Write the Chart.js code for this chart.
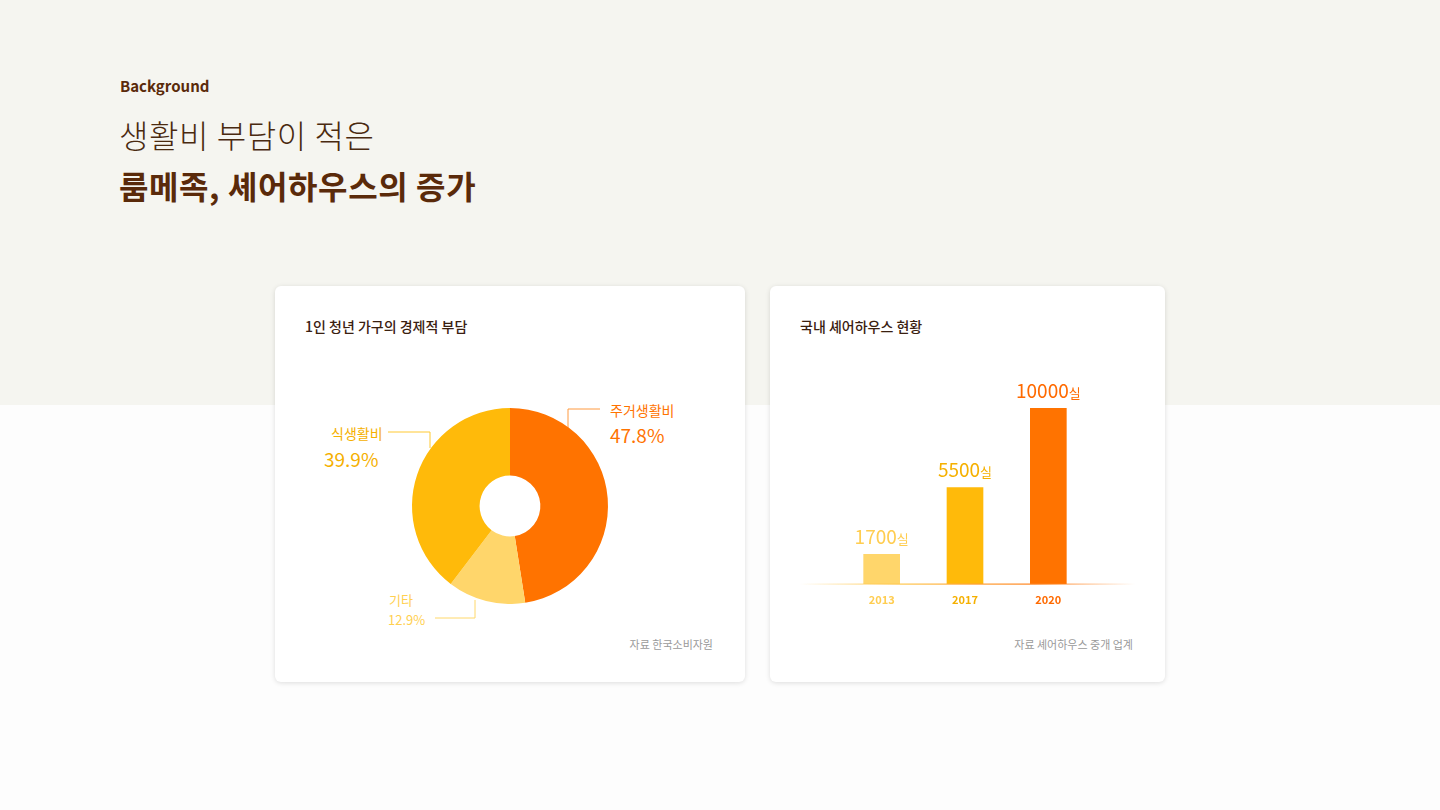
<!DOCTYPE html>
<html><head><meta charset="utf-8">
<script src="https://cdn.jsdelivr.net/npm/chart.js@4"></script>
<style>
body{margin:0;width:1440px;height:810px;position:relative;font-family:"Noto Sans CJK KR","Noto Sans",sans-serif;background:#fdfdfd;overflow:hidden}
.top{position:absolute;left:0;top:0;width:1440px;height:405px;background:#f5f5f0}
.abs{position:absolute;white-space:nowrap}
.card{position:absolute;top:286px;height:396px;background:#fff;border-radius:6px;box-shadow:0 1px 5px rgba(0,0,0,0.13)}
.ct{position:absolute;left:30px;top:30px;font-size:14px;font-weight:500;color:#3a2010}
.src{position:absolute;font-size:11px;color:#9a9a9a}
</style></head><body>
<div class="top"></div>
<div class="abs" style="left:120px;top:75px;font-size:15px;font-weight:700;color:#5a2a0a">Background</div>
<div class="abs" style="left:119px;top:111px;font-size:32px;font-weight:300;color:#4a2a10;letter-spacing:0.6px">생활비 부담이 적은</div>
<div class="abs" style="left:119px;top:162px;font-size:32px;font-weight:700;color:#5a2a0a;letter-spacing:0.6px">룸메족, 셰어하우스의 증가</div>
<div class="card" style="left:275px;width:470px"><div class="ct">1인 청년 가구의 경제적 부담</div><div class="src" style="right:32px;top:350px">자료 한국소비자원</div></div>
<div class="card" style="left:770px;width:395px"><div class="ct">국내 셰어하우스 현황</div><div class="src" style="right:32px;top:350px">자료 셰어하우스 중개 업계</div></div>
<svg class="abs" style="left:0;top:0" width="1440" height="810">
<polyline points="600,409 568,409 568,428" fill="none" stroke="#ff9a40" stroke-width="1"/>
<polyline points="388,432 430,432 430,448" fill="none" stroke="#ffc933" stroke-width="1"/>
<polyline points="435,618 475,618 475,600" fill="none" stroke="#ffd86b" stroke-width="1"/>
</svg>
<div class="abs" style="left:610px;top:400px;font-size:14px;color:#ff7300">주거생활비</div>
<div class="abs" style="left:610px;top:421px;font-size:19px;color:#ff7300">47.8%</div>
<div class="abs" style="left:331px;top:423px;font-size:14px;color:#f5b000">식생활비</div>
<div class="abs" style="left:324px;top:445px;font-size:19px;color:#f5b000">39.9%</div>
<div class="abs" style="left:389px;top:590px;font-size:13px;color:#ffd050">기타</div>
<div class="abs" style="left:388px;top:610px;font-size:13px;color:#ffd050">12.9%</div>
<div class="abs" style="left:275px;top:408px;width:470px;height:196px"><canvas id="pie"></canvas></div>
<div class="abs" style="left:800px;top:360px;width:335px;height:250px"><canvas id="bar"></canvas></div>
<script>
const pieLabels=["주거생활비","기타","식생활비"];
const pieValues=[47.8,12.9,39.9];
const pieColors=["#ff7300","#ffd66b","#ffba0a"];
const years=["2013","2017","2020"];
const rooms=[1700,5500,10000];
const barColors=["#ffd66b","#ffba0a","#ff7300"];
const yearColors=["#ffcd50","#f5b000","#ff6a00"];
new Chart(document.getElementById('pie'),{type:'doughnut',
data:{labels:pieLabels,datasets:[{data:pieValues,backgroundColor:pieColors,borderWidth:0}]},
options:{responsive:true,maintainAspectRatio:false,animation:false,cutout:'31%',plugins:{legend:{display:false},tooltip:{enabled:false}}}});
const barPlugin={id:'bl',afterDatasetsDraw(c){const ctx=c.ctx,a=c.chartArea,m=c.getDatasetMeta(0);
const g=ctx.createLinearGradient(0,0,c.width,0);g.addColorStop(0,'rgba(255,200,80,0)');g.addColorStop(0.3,'rgba(255,200,80,1)');g.addColorStop(0.7,'rgba(255,130,30,1)');g.addColorStop(1,'rgba(255,130,30,0)');
ctx.fillStyle=g;ctx.fillRect(0,a.bottom-0.5,c.width,1.2);
m.data.forEach((b,i)=>{ctx.save();
ctx.font='19px "Noto Sans CJK KR"';const t=String(rooms[i]);const w1=ctx.measureText(t).width;ctx.font='13px "Noto Sans CJK KR"';const w2=ctx.measureText('실').width;
const x0=b.x-(w1+w2)/2;ctx.textBaseline='alphabetic';ctx.textAlign='left';ctx.fillStyle=yearColors[i];
ctx.font='19px "Noto Sans CJK KR"';ctx.fillText(t,x0,b.y-10);ctx.font='13px "Noto Sans CJK KR"';ctx.fillText('실',x0+w1,b.y-10);
ctx.font='bold 11px "Noto Sans CJK KR"';ctx.textAlign='center';ctx.fillText(years[i],b.x,a.bottom+20);ctx.restore();});}};
new Chart(document.getElementById('bar'),{type:'bar',
data:{labels:years,datasets:[{data:rooms,backgroundColor:barColors,borderWidth:0,categoryPercentage:1,barPercentage:0.44}]},
options:{responsive:true,maintainAspectRatio:false,animation:false,layout:{padding:{left:40,right:45,top:48,bottom:26}},
scales:{x:{display:false},y:{display:false,min:0,max:10000}},plugins:{legend:{display:false},tooltip:{enabled:false}}},plugins:[barPlugin]});
</script></body></html>
